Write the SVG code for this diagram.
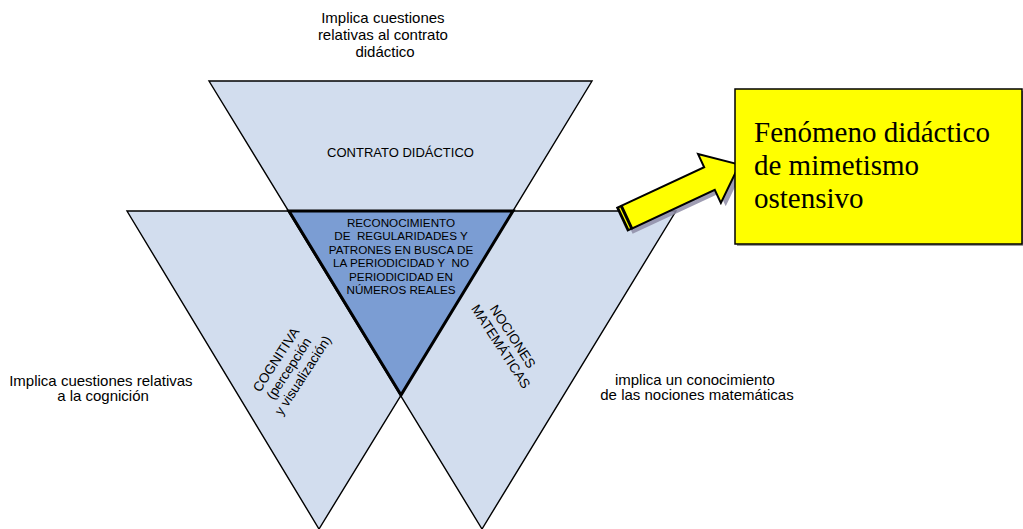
<svg xmlns="http://www.w3.org/2000/svg" width="1023" height="529" viewBox="0 0 1023 529">
<style>
  .tri { fill: #D2DDEE; stroke: #000; stroke-width: 1.4; stroke-linejoin: miter; }
  .core { fill: #7B9DD3; stroke: #000; stroke-width: 3; stroke-linejoin: miter; }
  .sans { font-family: "Liberation Sans", Arial, sans-serif; fill: #000; }
  .note { font-size: 15px; }
  .lbl { font-size: 13.5px; }
  .core-t { font-size: 11.7px; white-space: pre; }
  .serif { font-family: "Liberation Serif", "Times New Roman", serif; font-size: 29px; fill: #000; }
</style>
<rect width="1023" height="529" fill="#fff"/>

<g id="triangle-contrato">
  <polygon class="tri" points="209,81 592,81 401,395"/>
  <text class="sans" style="font-size:13px" x="400.5" y="157" text-anchor="middle">CONTRATO DIDÁCTICO</text>
</g>

<g id="triangle-cognitiva">
  <polygon class="tri" points="127,211 514,211 319,529"/>
  <text class="sans lbl" transform="translate(290,367) rotate(-57)" text-anchor="middle">
    <tspan x="0" y="-11">COGNITIVA</tspan>
    <tspan x="0" y="4.5">(percepción</tspan>
    <tspan x="0" y="20">y visualización)</tspan>
  </text>
</g>

<g id="triangle-nociones">
  <polygon class="tri" points="288,211 676,211 482,529"/>
  <text class="sans lbl" transform="translate(507,342.5) rotate(57)" text-anchor="middle">
    <tspan x="0" y="-3.5">NOCIONES</tspan>
    <tspan x="0" y="12">MATEMÁTICAS</tspan>
  </text>
</g>

<g id="triangle-central">
  <polygon class="core" points="289,211 513,211 401,395"/>
  <text class="sans core-t" text-anchor="middle" xml:space="preserve"><tspan x="401" y="227">RECONOCIMIENTO</tspan><tspan x="401" y="240">DE  REGULARIDADES Y</tspan><tspan x="401" y="254">PATRONES EN BUSCA DE</tspan><tspan x="401" y="267">LA PERIODICIDAD Y  NO</tspan><tspan x="401" y="280.5">PERIODICIDAD EN</tspan><tspan x="401" y="294">NÚMEROS REALES</tspan></text>
</g>

<g id="note-contrato">
  <text class="sans note" text-anchor="middle">
    <tspan x="385" y="22.5">Implica cuestiones</tspan>
    <tspan x="385" y="39.5">relativas al contrato</tspan>
    <tspan x="385" y="56.5">didáctico</tspan>
  </text>
</g>

<g id="note-cognicion">
  <text class="sans note" text-anchor="middle">
    <tspan x="103" y="386">Implica cuestiones relativas</tspan>
    <tspan x="103" y="401">a la cognición</tspan>
  </text>
</g>

<g id="note-nociones">
  <text class="sans note" text-anchor="middle">
    <tspan x="697" y="385">implica un conocimiento</tspan>
    <tspan x="697" y="400">de las nociones matemáticas</tspan>
  </text>
</g>

<g id="connectors">
  <g transform="translate(627,217) rotate(-25)">
    <polygon points="-5,-12.5 91,-12.5 91,-27 124,0 91,27 91,12.5 -5,12.5" fill="#8E8CA6" opacity="0.85" transform="translate(3,5)"/>
    <polygon points="0,-12.5 91,-12.5 91,-27 124,0 91,27 91,12.5 0,12.5" fill="#FFFF00" stroke="#000" stroke-width="2" stroke-linejoin="miter"/>
    <rect x="-6" y="-13.5" width="6" height="27" fill="#000"/>
    <line x1="-2.6" y1="-11.5" x2="-2.6" y2="11.5" stroke="#FFFF00" stroke-width="1.2"/>
  </g>
</g>

<g id="box-fenomeno">
  <rect x="737" y="91" width="286" height="155" fill="#9a9a9a"/>
  <rect x="735" y="89" width="287" height="155" fill="#FFFF00" stroke="#000" stroke-width="1.5"/>
  <text class="serif">
    <tspan x="754" y="142">Fenómeno didáctico</tspan>
    <tspan x="754" y="175">de mimetismo</tspan>
    <tspan x="754" y="208">ostensivo</tspan>
  </text>
</g>
</svg>
